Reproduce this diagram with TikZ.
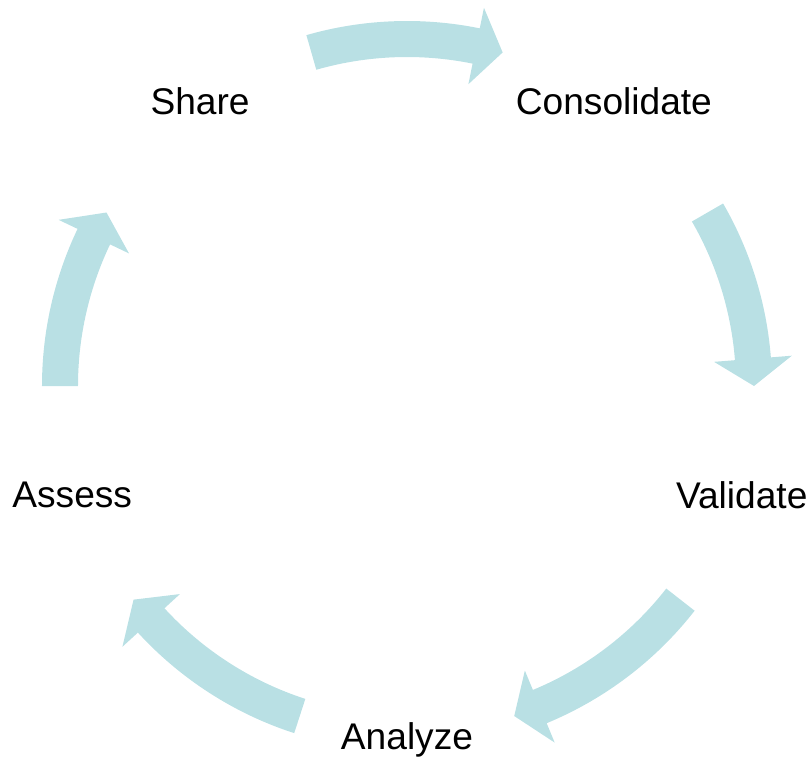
\documentclass[tikz,border=0pt]{standalone}
\usepackage{fontspec}
\setmainfont{Liberation Sans}
\definecolor{cyclecol}{RGB}{185,224,228}

\begin{document}
\begin{tikzpicture}[
        x=0.025cm, y=0.025cm,
        stage/.style={font=\fontsize{26.4}{31}\selectfont, inner sep=0pt},
        cyclearrow/.style={fill=cyclecol, draw=none},
    ]
    \useasboundingbox (-407,-373) rectangle (402,386);

    % the five stages, on a pentagon
    \node[stage] (share)  at (126:352) {Share};
    \node[stage] (consol) at (54:352)  {Consolidate};
    \node[stage] (valid)  at (-18:352) {Validate};
    \node[stage] (anal)   at (-90:354) {Analyze};
    \node[stage] (assess) at (198:352) {Assess};

    % curved block arrows between the stages (start angle / tip angle)
    \foreach \s/\e in {106/74, 30/0, -38/-72, -108/-142, 180/150} {
        \pgfmathsetmacro{\b}{\e+4.5}
        \fill[cyclearrow] (\s:365) arc[start angle=\s, end angle=\b, radius=365]
            -- (\b:386) -- (\e:347) -- (\b:308) -- (\b:329)
            arc[start angle=\b, end angle=\s, radius=329] -- cycle;
    }
\end{tikzpicture}
\end{document}
